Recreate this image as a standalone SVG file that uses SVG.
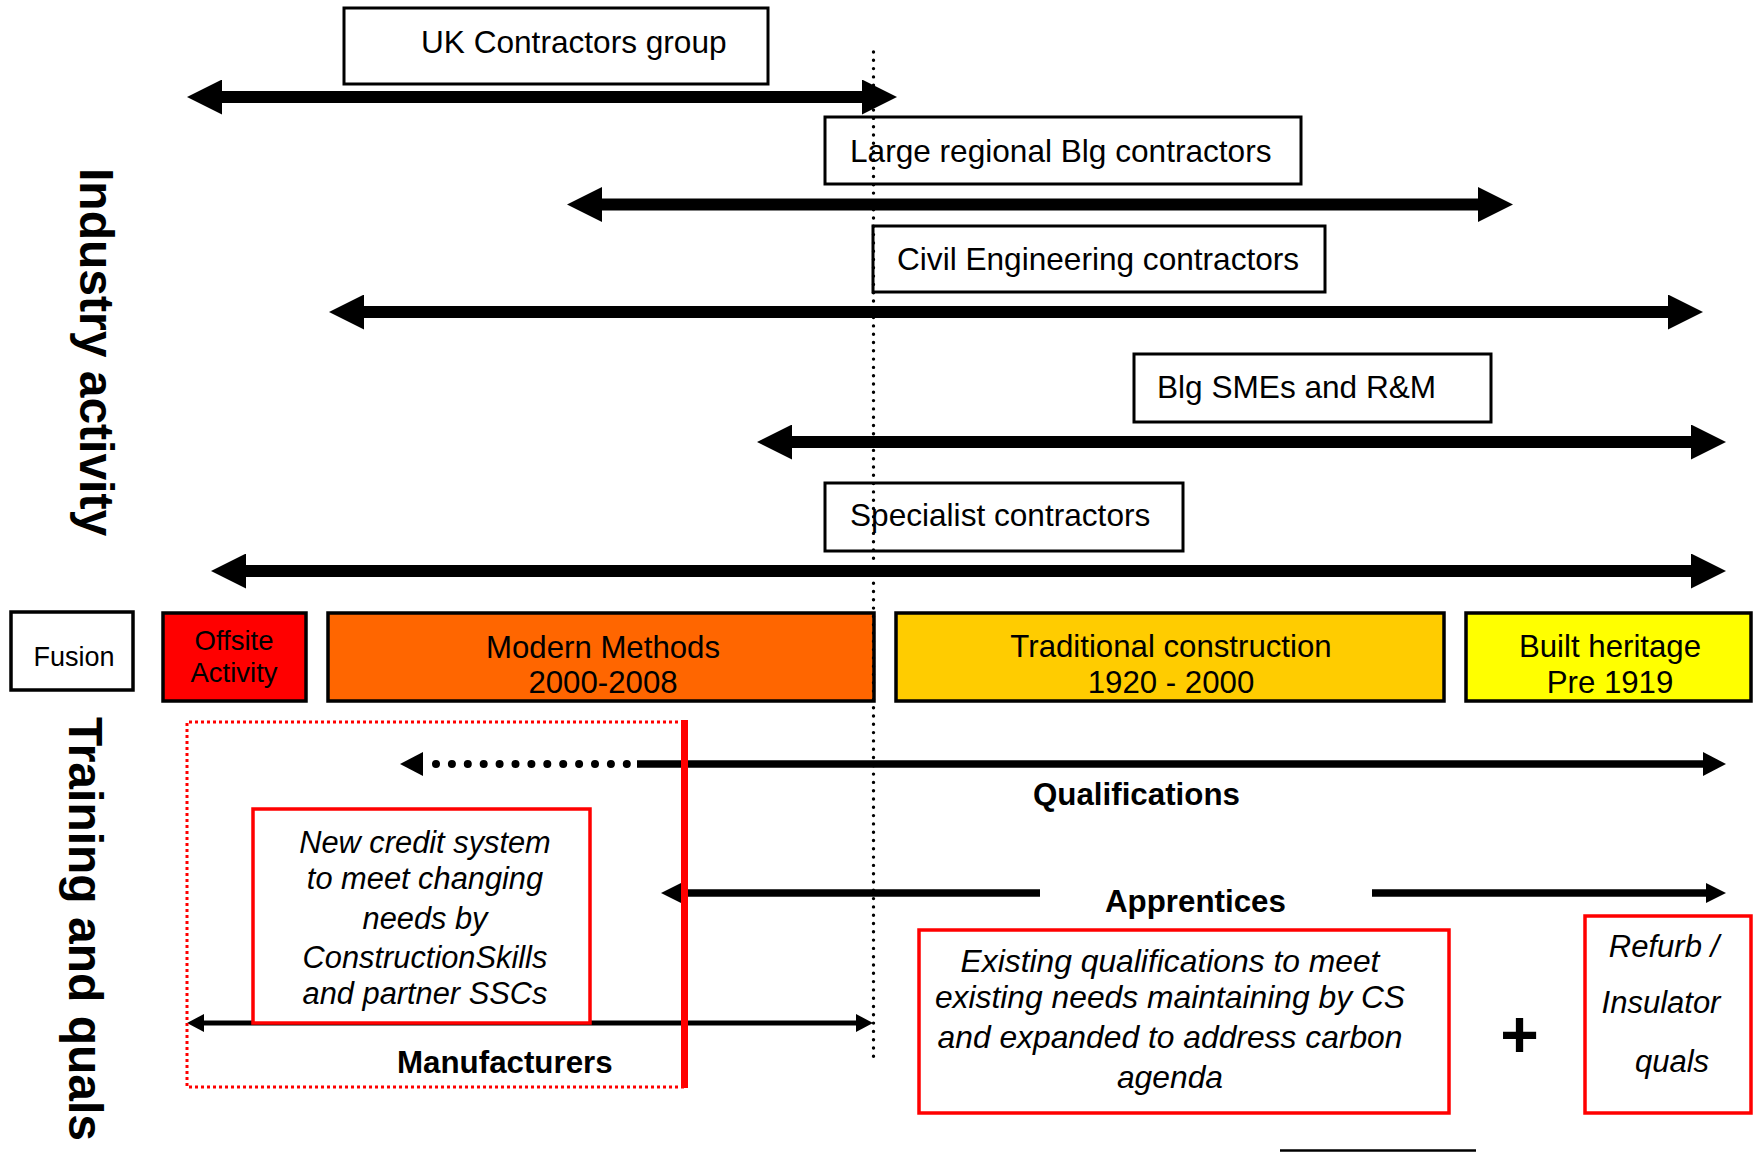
<svg xmlns="http://www.w3.org/2000/svg" width="1760" height="1152" viewBox="0 0 1760 1152">
<style>
  text { font-family: "Liberation Sans", Arial, sans-serif; fill: #000; }
  .hdr { font-size: 31.6px; }
  .per { font-size: 31.2px; text-anchor: middle; }
  .lbl { font-size: 31.3px; font-weight: bold; }
  .side { font-size: 48px; font-weight: bold; }
  .ital { font-style: italic; text-anchor: middle; }
  .wbox { fill: #fff; stroke: #000; stroke-width: 3; }
  .pbox { stroke: #000; stroke-width: 3.5; }
  .rbox { fill: #fff; stroke: #ff0000; stroke-width: 3.5; }
  .big { stroke: #000; stroke-width: 12; fill: none; }
  .med { stroke: #000; stroke-width: 7.5; fill: none; }
  .thin { stroke: #000; stroke-width: 5; fill: none; }
</style>
<defs>
  <marker id="hBig" markerUnits="userSpaceOnUse" markerWidth="35" markerHeight="35" viewBox="0 0 35 35" refX="0" refY="17.5" orient="auto-start-reverse">
    <path d="M0,0 L35,17.5 L0,35 Z" fill="#000"/>
  </marker>
  <marker id="hQual" markerUnits="userSpaceOnUse" markerWidth="23" markerHeight="24" viewBox="0 0 23 24" refX="0" refY="12" orient="auto-start-reverse">
    <path d="M0,0 L23,12 L0,24 Z" fill="#000"/>
  </marker>
  <marker id="hApp" markerUnits="userSpaceOnUse" markerWidth="20" markerHeight="20" viewBox="0 0 20 20" refX="0" refY="10" orient="auto-start-reverse">
    <path d="M0,0 L20,10 L0,20 Z" fill="#000"/>
  </marker>
  <marker id="hMan" markerUnits="userSpaceOnUse" markerWidth="17" markerHeight="18" viewBox="0 0 17 18" refX="0" refY="9" orient="auto-start-reverse">
    <path d="M0,0 L17,9 L0,18 Z" fill="#000"/>
  </marker>
</defs>

<rect width="1760" height="1152" fill="#fff"/>

<!-- side labels -->
<g id="label-industry">
  <text class="side" transform="translate(80,168) rotate(90)">Industry activity</text>
</g>
<g id="label-training">
  <text class="side" transform="translate(69,717) rotate(90)">Training and quals</text>
</g>

<g id="connectors">
  <line class="big" x1="222" y1="97" x2="862" y2="97" marker-start="url(#hBig)" marker-end="url(#hBig)"/>
  <line class="big" x1="602" y1="204.5" x2="1478" y2="204.5" marker-start="url(#hBig)" marker-end="url(#hBig)"/>
  <line class="big" x1="364" y1="312" x2="1668" y2="312" marker-start="url(#hBig)" marker-end="url(#hBig)"/>
  <line class="big" x1="792" y1="442" x2="1691" y2="442" marker-start="url(#hBig)" marker-end="url(#hBig)"/>
  <line class="big" x1="246" y1="571" x2="1691" y2="571" marker-start="url(#hBig)" marker-end="url(#hBig)"/>
  <!-- qualifications -->
  <line x1="423" y1="764" x2="628" y2="764" stroke="#000" stroke-width="8" stroke-linecap="round" stroke-dasharray="0 15.9" stroke-dashoffset="2.9" marker-start="url(#hQual)"/>
  <line class="med" x1="637" y1="764" x2="1703" y2="764" marker-end="url(#hQual)"/>
  <!-- apprentices -->
  <line class="med" x1="681" y1="893" x2="1040" y2="893" marker-start="url(#hApp)"/>
  <line class="med" x1="1372" y1="893" x2="1706" y2="893" marker-end="url(#hApp)"/>
  <!-- manufacturers -->
  <line class="thin" x1="204" y1="1023" x2="856" y2="1023" marker-start="url(#hMan)" marker-end="url(#hMan)"/>
  <!-- bottom line -->
  <line x1="1280" y1="1150.5" x2="1476" y2="1150.5" stroke="#000" stroke-width="2.5"/>
</g>

<!-- industry groups -->
<g id="uk-contractors">
  <rect class="wbox" x="344" y="8" width="424" height="76"/>
  <text class="hdr" x="421" y="53">UK Contractors group</text>
</g>
<g id="large-regional">
  <rect class="wbox" x="825" y="117" width="476" height="67"/>
  <text class="hdr" x="850" y="162">Large regional Blg contractors</text>
</g>
<g id="civil-engineering">
  <rect class="wbox" x="873" y="226" width="452" height="66"/>
  <text class="hdr" x="897" y="270">Civil Engineering contractors</text>
</g>
<g id="blg-smes">
  <rect class="wbox" x="1134" y="354" width="357" height="68"/>
  <text class="hdr" x="1157" y="398">Blg SMEs and R&amp;M</text>
</g>
<g id="specialist">
  <rect class="wbox" x="825" y="483" width="358" height="68"/>
  <text class="hdr" x="850" y="526">Specialist contractors</text>
</g>

<!-- periods -->
<g id="fusion">
  <rect class="pbox" x="11" y="612" width="122" height="78" fill="#fff"/>
  <text x="74" y="666" font-size="27" text-anchor="middle">Fusion</text>
</g>
<g id="offsite">
  <rect class="pbox" x="163" y="613" width="143" height="88" fill="#ff0000"/>
  <text x="234" y="650" font-size="27.5" text-anchor="middle">Offsite</text>
  <text x="234" y="682" font-size="27.5" text-anchor="middle">Activity</text>
</g>
<g id="modern-methods">
  <rect class="pbox" x="328" y="613" width="546" height="88" fill="#ff6600"/>
  <text class="per" x="603" y="658">Modern Methods</text>
  <text class="per" x="603" y="693">2000-2008</text>
</g>
<g id="traditional">
  <rect class="pbox" x="896" y="613" width="548" height="88" fill="#ffcc00"/>
  <text class="per" x="1171" y="657">Traditional construction</text>
  <text class="per" x="1171" y="693">1920 - 2000</text>
</g>
<g id="built-heritage">
  <rect class="pbox" x="1466" y="613" width="285" height="88" fill="#ffff00"/>
  <text class="per" x="1610" y="657">Built heritage</text>
  <text class="per" x="1610" y="693">Pre 1919</text>
</g>

<!-- training -->
<g id="new-system-zone">
  <path d="M684,722 H187 V1087 H684" fill="none" stroke="#ff0000" stroke-width="3" stroke-dasharray="3 3"/>
  <line x1="684.5" y1="720" x2="684.5" y2="1088" stroke="#ff0000" stroke-width="7"/>
</g>
<g id="new-credit-system">
  <rect class="rbox" x="253" y="809" width="337" height="214"/>
  <text class="ital" x="425" y="853" font-size="30.8">New credit system</text>
  <text class="ital" x="425" y="889" font-size="30.8">to meet changing</text>
  <text class="ital" x="425" y="929" font-size="30.8">needs by</text>
  <text class="ital" x="425" y="968" font-size="30.8">ConstructionSkills</text>
  <text class="ital" x="425" y="1004" font-size="30.8">and partner SSCs</text>
</g>
<g id="existing-quals">
  <rect class="rbox" x="919" y="930" width="530" height="183"/>
  <text class="ital" x="1170" y="972" font-size="31.8">Existing qualifications to meet</text>
  <text class="ital" x="1170" y="1008" font-size="31.8">existing needs maintaining by CS</text>
  <text class="ital" x="1170" y="1048" font-size="31.8">and expanded to address carbon</text>
  <text class="ital" x="1170" y="1088" font-size="31.8">agenda</text>
</g>
<g id="plus">
  <text x="1519.5" y="1057" font-size="66" font-weight="bold" text-anchor="middle">+</text>
</g>
<g id="refurb">
  <rect class="rbox" x="1585" y="916" width="166" height="197"/>
  <text class="ital" x="1664" y="957" font-size="31">Refurb /</text>
  <text class="ital" x="1661" y="1013" font-size="31">Insulator</text>
  <text class="ital" x="1672" y="1072" font-size="31">quals</text>
</g>

<g id="labels">
  <text class="lbl" x="1033" y="805">Qualifications</text>
  <text class="lbl" x="1105" y="912">Apprentices</text>
  <text class="lbl" x="397" y="1073">Manufacturers</text>
</g>

<g id="divider">
  <line x1="873.5" y1="52" x2="873.5" y2="1063" stroke="#000" stroke-width="3.4" stroke-linecap="round" stroke-dasharray="0 8.3"/>
</g>
</svg>
